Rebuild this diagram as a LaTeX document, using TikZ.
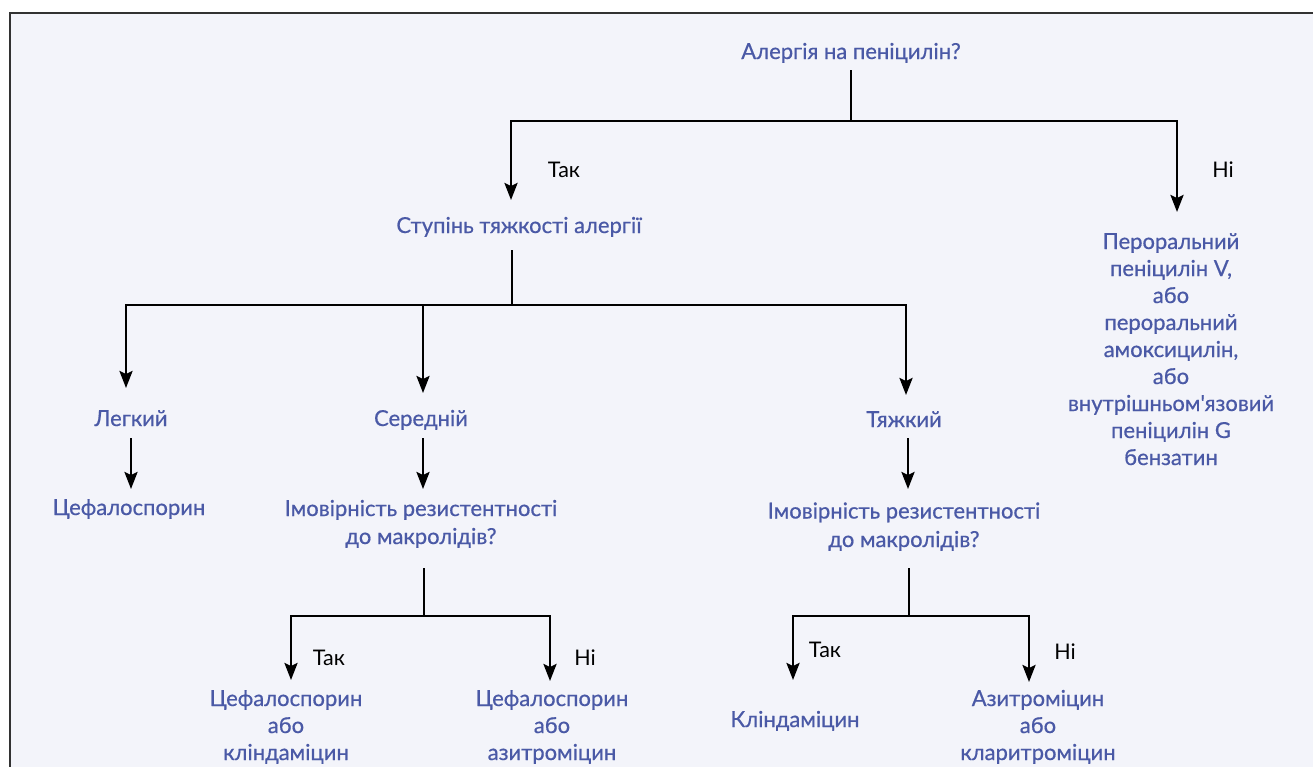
\documentclass[tikz,border=0pt]{standalone}
\usepackage{fontspec}
\setmainfont{Lato}[Ligatures=TeXOff]
\newfontfamily\inkfont{Lato}[Ligatures=TeXOff, FakeBold=0.6]
\usetikzlibrary{arrows.meta}
\definecolor{panel}{RGB}{243,244,250}
\definecolor{ink}{RGB}{74,89,166}
\definecolor{framec}{RGB}{50,50,50}
\begin{document}
\begin{tikzpicture}[x=1pt,y=-1pt,
  txt/.style={font=\inkfont\fontsize{22}{27}\selectfont, text=ink, align=center, inner sep=0pt, anchor=base},
  lbl/.style={font=\fontsize{21.5}{27}\selectfont, text=black, inner sep=0pt, anchor=base},
  ln/.style={line width=2.6pt},
  arr/.style={line width=2.6pt, -{Stealth[length=17pt,width=13pt,inset=3pt]}}]

% canvas and panel
\useasboundingbox (0,0) rectangle (1313,766);
\clip (0,0) rectangle (1313,766);
\fill[white] (0,0) rectangle (1313,766);
\fill[panel] (10,13) rectangle (1340,800);
\draw[framec, line width=1.5pt] (10,800) -- (10,13) -- (1340,13);

% decision texts (multi-line nodes sit on the baseline of their last line)
\node[txt] (allergy) at (851,59) {Алергія на пеніцилін?};
\node[lbl] (yes1) at (564,177) {Так};
\node[lbl] (no1) at (1223,177) {Ні};
\node[txt] (severity) at (519,233) {Ступінь тяжкості алергії};
\node[txt] (oral) at (1171,465) {Пероральний\\пеніцилін V,\\або\\пероральний\\амоксицилін,\\або\\внутрішньом'язовий\\пеніцилін G\\бензатин};
\node[txt] (mild) at (131,426) {Легкий};
\node[txt] (moderate) at (421,426) {Середній};
\node[txt] (severe) at (904,427) {Тяжкий};
\node[txt] (cephA) at (129,515) {Цефалоспорин};
\node[txt, font=\inkfont\fontsize{22}{28}\selectfont] (riskM) at (421,544) {Імовірність резистентності\\до макролідів?};
\node[txt, font=\inkfont\fontsize{22}{28.5}\selectfont] (riskS) at (904,547) {Імовірність резистентності\\до макролідів?};
\node[lbl] (yes2) at (329,665) {Так};
\node[lbl] (no2) at (585,665) {Ні};
\node[lbl] (yes3) at (825,657) {Так};
\node[lbl] (no3) at (1065,659) {Ні};
\node[txt] (cephClin) at (286,760) {Цефалоспорин\\або\\кліндаміцин};
\node[txt] (cephAzi) at (552,760) {Цефалоспорин\\або\\азитроміцин};
\node[txt] (clin) at (795,727) {Кліндаміцин};
\node[txt] (aziCla) at (1038,760) {Азитроміцин\\або\\кларитроміцин};

% stems, branch points and arrow tips
\coordinate (s0) at (851,70);  \coordinate (j0) at (851,121);
\coordinate (tSev) at (511,200); \coordinate (tOral) at (1177,212);
\coordinate (s1) at (512,250); \coordinate (j1) at (512,305);
\coordinate (tMild) at (126,388); \coordinate (tMod) at (423,393); \coordinate (tSevere) at (906,395);
\coordinate (sMild) at (131,438); \coordinate (tCephA) at (131,489);
\coordinate (sMod) at (423,438); \coordinate (tRiskM) at (423,489);
\coordinate (sSevere) at (908,438); \coordinate (tRiskS) at (908,489);
\coordinate (s2) at (424,568); \coordinate (j2) at (424,616);
\coordinate (tCC) at (291,680); \coordinate (tCA) at (550,681);
\coordinate (s3) at (909,568); \coordinate (j3) at (909,616);
\coordinate (tClin) at (793,680); \coordinate (tAC) at (1029,682);

% connectors
\draw[ln] (s0) -- (j0);
\draw[arr] (j0) -| (tSev);
\draw[arr] (j0) -| (tOral);
\draw[ln] (s1) -- (j1);
\draw[arr] (j1) -| (tMild);
\draw[arr] (j1) -| (tMod);
\draw[arr] (j1) -| (tSevere);
\draw[arr] (sMild) -- (tCephA);
\draw[arr] (sMod) -- (tRiskM);
\draw[arr] (sSevere) -- (tRiskS);
\draw[ln] (s2) -- (j2);
\draw[arr] (j2) -| (tCC);
\draw[arr] (j2) -| (tCA);
\draw[ln] (s3) -- (j3);
\draw[arr] (j3) -| (tClin);
\draw[arr] (j3) -| (tAC);
\end{tikzpicture}
\end{document}
